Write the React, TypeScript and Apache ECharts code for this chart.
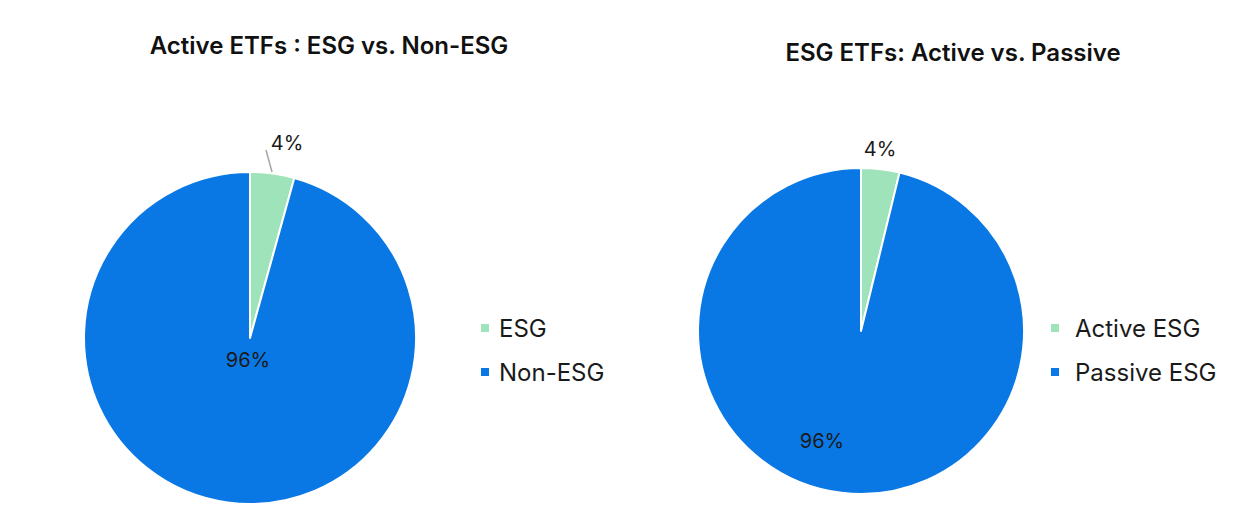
import React, { useEffect, useRef } from "react";
import * as echarts from "echarts";

const leftTitle = "Active ETFs : ESG vs. Non-ESG";
const rightTitle = "ESG ETFs: Active vs. Passive";
const leftCategories = ["ESG", "Non-ESG"];
const leftValues = [4.3, 95.7];
const rightCategories = ["Active ESG", "Passive ESG"];
const rightValues = [3.8, 96.2];
const colors = ["#9fe3bb", "#0a78e4"];

// label anchor positions (centres of label text)
const leftLabelPos = [[287, 143], [248, 360]];
const rightLabelPos = [[880, 149], [822, 441]];
const leftLeader = [[272, 172], [266, 150], [266, 150]];

const FONT = "Inter, 'Noto Sans', sans-serif";

export default function App() {
  const ref = useRef<HTMLDivElement>(null);
  useEffect(() => {
    document.body.style.margin = "0";
    const chart = echarts.init(ref.current!, null, { renderer: "svg" });
    const mkSeries = (cats: string[], vals: number[], center: number[], r: number, pos: number[][], leader: number[][] | null) => ({
      type: "pie",
      center,
      radius: r,
      startAngle: 90,
      clockwise: true,
      itemStyle: { borderColor: "#ffffff", borderWidth: 2 },
      label: {
        show: true,
        position: "inside",
        formatter: (p: any) => Math.round(p.percent) + "%",
        fontFamily: FONT,
        fontSize: 20,
        color: "#1a1a1a",
      },
      labelLine: { show: false },
      labelLayout: (p: any) => {
        const [x, y] = pos[p.dataIndex];
        const out: any = { x, y, align: "center", verticalAlign: "middle" };
        if (p.dataIndex === 0 && leader) out.labelLinePoints = leader;
        return out;
      },
      emphasis: { disabled: true },
      data: cats.map((c, i) => ({
        name: c,
        value: vals[i],
        itemStyle: { color: colors[i] },
        label: i === 0 ? { position: "outside" } : undefined,
        labelLine: i === 0 && leader ? { show: true, length: 20, length2: 0, lineStyle: { color: "#a6a6a6", width: 1.5 } } : { show: false },
      })),
    });
    const legendBase = {
      orient: "vertical",
      top: 311,
      itemWidth: 10,
      itemHeight: 10,
      itemGap: 20,
      icon: "rect",
      selectedMode: false,
    };
    chart.setOption({
      animation: false,
      title: [
        { text: leftTitle, left: 324, top: 28, textAlign: "center", textStyle: { fontFamily: FONT, fontSize: 24, fontWeight: 600, color: "#111" } },
        { text: rightTitle, left: 948, top: 35, textAlign: "center", textStyle: { fontFamily: FONT, fontSize: 24, fontWeight: 600, color: "#111" } },
      ],
      legend: [
        {
          ...legendBase,
          data: leftCategories,
          left: 474,
          textStyle: { fontFamily: FONT, fontSize: 24, color: "#1a1a1a", padding: [0, 0, 0, 4] },
        },
        {
          ...legendBase,
          data: rightCategories,
          left: 1044,
          textStyle: { fontFamily: FONT, fontSize: 24, color: "#1a1a1a", padding: [0, 0, 0, 10] },
        },
      ],
      series: [
        mkSeries(leftCategories, leftValues, [250, 338], 166, leftLabelPos, leftLeader),
        mkSeries(rightCategories, rightValues, [861, 331], 163, rightLabelPos, null),
      ],
    });
    return () => chart.dispose();
  }, []);
  return <div ref={ref} style={{ width: 1244, height: 526 }} />;
}
